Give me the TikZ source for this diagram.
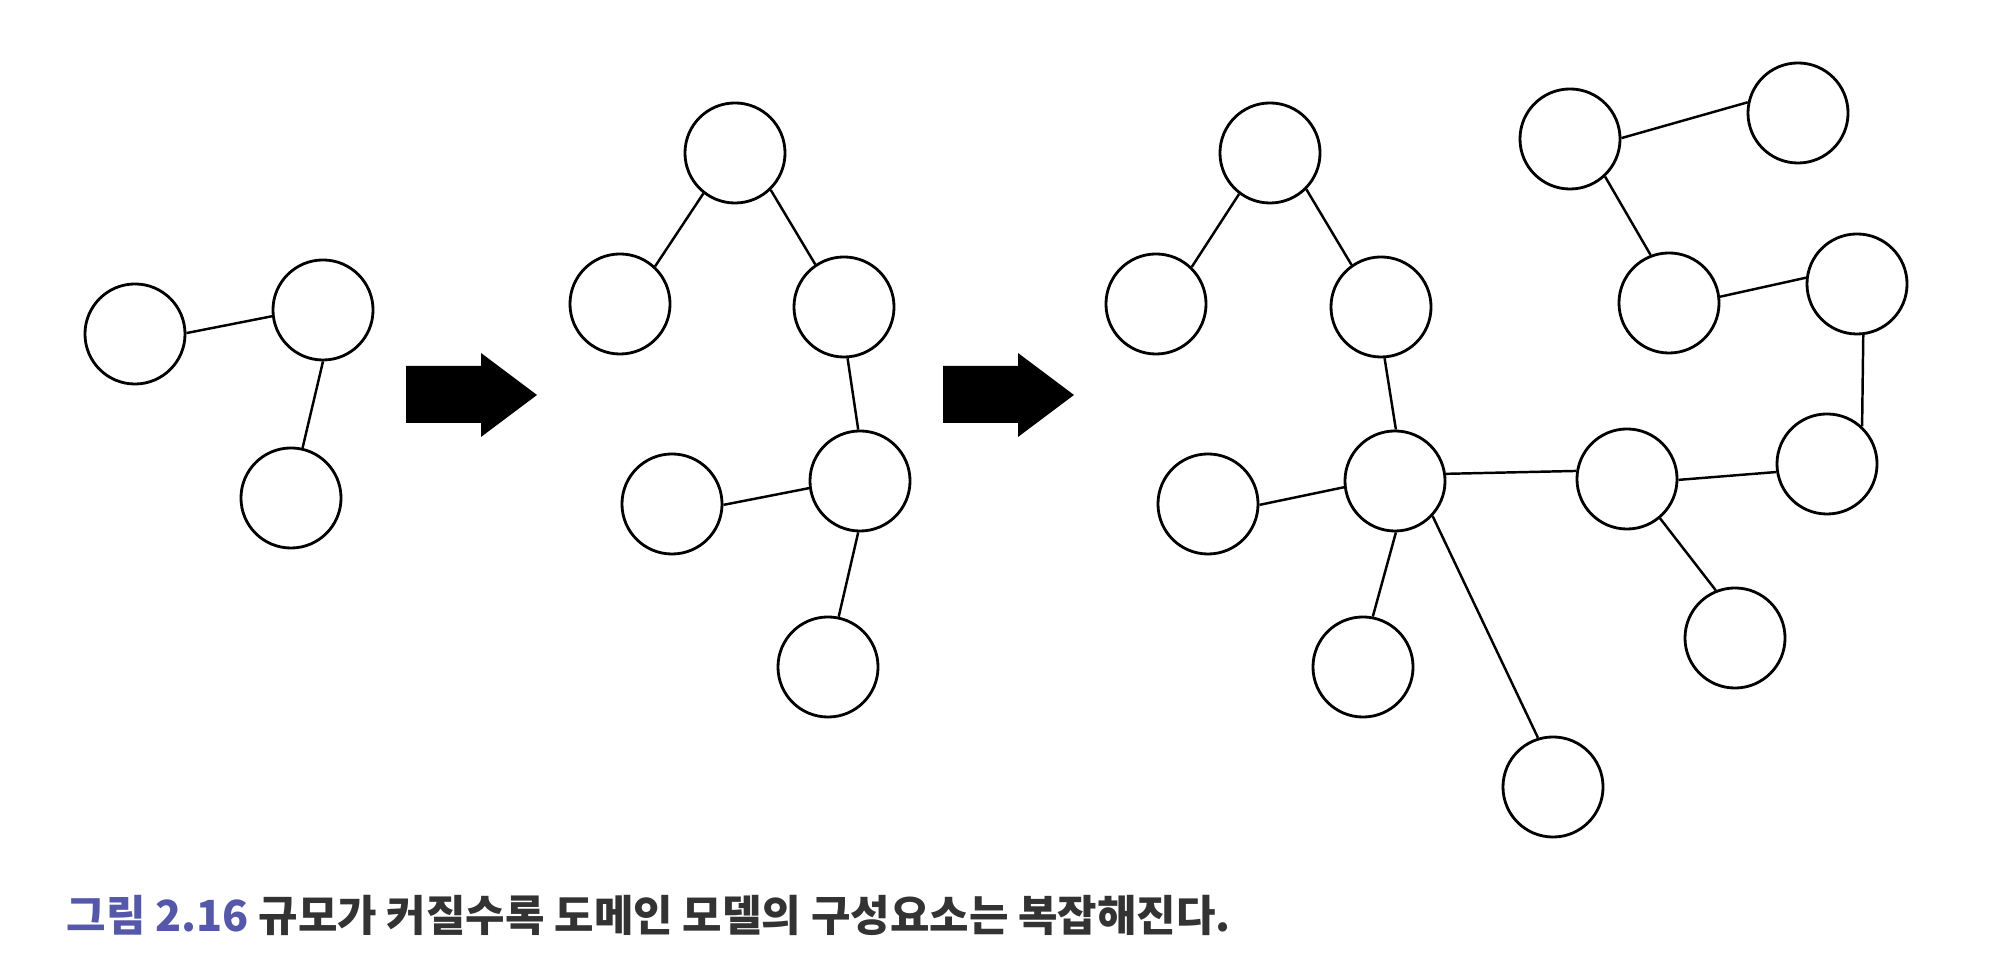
\documentclass[tikz,border=0pt]{standalone}
\usepackage{fontspec}
\newfontfamily\kr{Noto Sans CJK KR}
\definecolor{figblue}{HTML}{5558A8}
\definecolor{capgray}{HTML}{333333}
\begin{document}
\begin{tikzpicture}[x=0.01cm,y=-0.01cm,
  nd/.style={circle,draw=black,line width=0.8pt,minimum size=10mm,inner sep=0pt,fill=white},
  ed/.style={draw=black,line width=0.7pt},
  bigarrow/.style={fill=black}]
\useasboundingbox (0,0) rectangle (2000,971);
% left graph
\node[nd] (a1) at (135,334) {};
\node[nd] (a2) at (323,310) {};
\node[nd] (a3) at (291,498) {};
\path[ed] (a1.1) -- (a2.187) (a2.-90) -- (a3.77);
% arrow 1
\fill[bigarrow] (406,366) -- (481,366) -- (481,353) -- (537,395) -- (481,437) -- (481,423) -- (406,423) -- cycle;
% middle graph
\node[nd] (b1) at (735,153) {};
\node[nd] (b2) at (620,304) {};
\node[nd] (b3) at (844,307) {};
\node[nd] (b4) at (860,481) {};
\node[nd] (b5) at (672,504) {};
\node[nd] (b6) at (828,667) {};
\path[ed] (b1.-128) -- (b2.47) (b1.-46) -- (b3.124) (b3.-86) -- (b4.92)
  (b4.188) -- (b5.-1) (b4.-92) -- (b6.78);
% arrow 2
\fill[bigarrow] (943,366) -- (1018,366) -- (1018,353) -- (1074,395) -- (1018,437) -- (1018,423) -- (943,423) -- cycle;
% right graph
\node[nd] (c1) at (1270,153) {};
\node[nd] (c2) at (1156,304) {};
\node[nd] (c3) at (1381,307) {};
\node[nd] (c4) at (1395,481) {};
\node[nd] (c5) at (1208,504) {};
\node[nd] (c6) at (1363,667) {};
\node[nd] (c7) at (1553,787) {};
\node[nd] (c8) at (1627,479) {};
\node[nd] (c9) at (1735,638) {};
\node[nd] (c10) at (1827,464) {};
\node[nd] (c11) at (1857,284) {};
\node[nd] (c12) at (1669,303) {};
\node[nd] (c13) at (1570,139) {};
\node[nd] (c14) at (1798,113) {};
\path[ed] (c1.-127) -- (c2.46) (c1.-45) -- (c3.125) (c3.-86) -- (c4.89)
  (c4.187) -- (c5.-1) (c4.-89) -- (c6.79) (c4.-43) -- (c7.107)
  (c4.8) -- (c8.171) (c8.-50) -- (c9.112) (c8.-1) -- (c10.189)
  (c10.47) -- (c11.-83) (c11.173) -- (c12.7) (c12.111) -- (c13.-47)
  (c13.1) -- (c14.168);
% caption
\node[anchor=west,inner sep=0pt,font=\kr\bfseries\fontsize{12.2pt}{14pt}\selectfont] (cap) at (66,915)
  {\textcolor{figblue}{그림 2.16} \textcolor{capgray}{규모가 커질수록 도메인 모델의 구성요소는 복잡해진다.}};
\end{tikzpicture}
\end{document}
